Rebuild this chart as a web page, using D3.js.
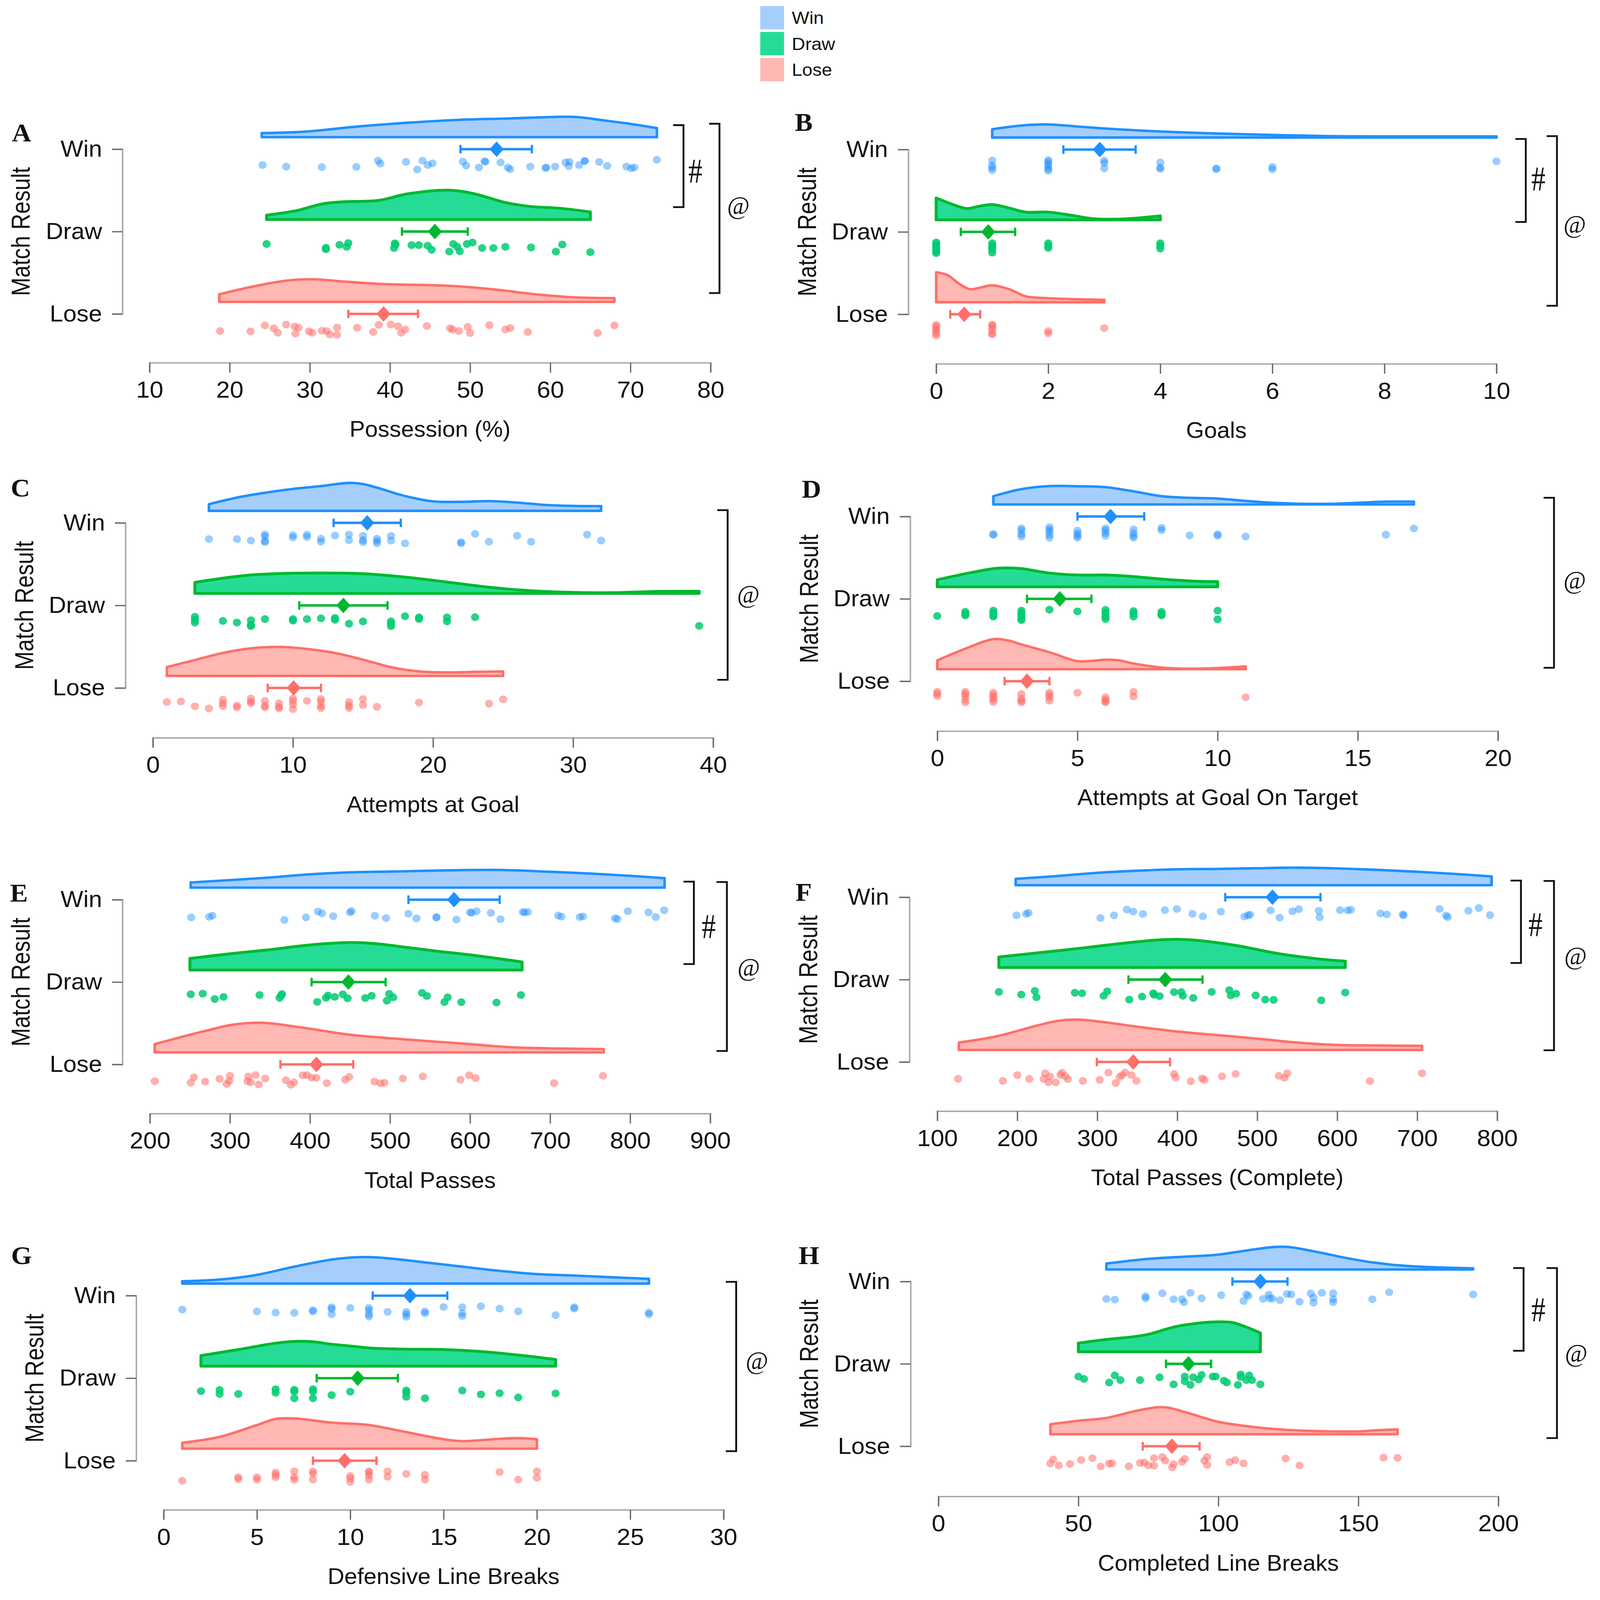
<!DOCTYPE html>
<html>
<head>
<meta charset="utf-8">
<script src="https://cdn.jsdelivr.net/npm/d3@7"></script>
<style>
  html, body { margin: 0; background: #fff; overflow: hidden; }
  svg { display: block; }
  text { font-family: "Liberation Sans", Arial, sans-serif; fill: #111; }
  .serif { font-family: "Liberation Serif", "Times New Roman", serif; }
</style>
</head>
<body>
<div id="chart"></div>
<script>
// values: [value, jitter 0..1] for points, [value, density] for ridges
// and [mean, ci low, ci high] for the error bars

const results = ["Win", "Draw", "Lose"];

// A - Possession (%)
const possessionWinPts = [[24.1,.5],[27.05,.64],[31.5,.69],[35.8,.67],[38.5,.08],[38.8,.36],[42,.2],[44.05,.08],[43.4,.92],[44.7,.5],[45.3,.33],[49.1,.17],[49.5,.55],[51.1,.72],[51.8,.14],[51.9,.17],[53.8,.25],[54.7,.72],[55,.89],[57.5,.64],[59.4,.78],[59.5,.72],[60.6,.64],[61.9,.25],[62.4,.2],[62.3,.6],[63.6,.5],[64.3,.11],[64.3,.12],[66.1,.2],[67.1,.58],[69.5,.64],[70.1,.8],[70.5,.72],[73.3,0]];
const possessionDrawPts = [[24.6,.17],[32,.53],[32,.67],[33.7,.25],[34.6,.44],[34.8,.08],[40.5,.55],[40.6,.11],[40.7,.22],[42.7,.28],[43.6,.28],[44.7,.33],[45.2,.72],[47.4,.89],[47.9,.17],[48.4,.44],[48.7,.86],[49.6,.17],[50.3,.03],[51.5,.55],[52.9,.55],[54.4,.44],[57.6,.5],[60.7,.89],[61.5,.22],[65,.94]];
const possessionLosePts = [[18.8,.61],[22.6,.64],[24.4,.08],[25.5,.36],[26,.78],[27.05,0],[28.1,.19],[28.2,.86],[28.6,.3],[29.9,.64],[30.3,.78],[31.5,.58],[32.1,.61],[32.5,.94],[33.4,.28],[33.4,.97],[35.9,.3],[37.9,.7],[38.6,.03],[40.1,0],[41,.17],[41.4,.78],[41.9,.47],[44.6,.14],[47.5,.36],[47.8,.47],[48.6,.61],[49.7,.22],[50,.8],[52.4,.06],[54.4,.47],[55,.33],[57.2,.7],[65.9,.8],[68,.08]];
const possessionWinDens = [[24,.116],[29.5,.157],[35.9,.3],[42.3,.41],[48.6,.49],[55,.53],[60.1,.57],[63.3,.57],[66.5,.48],[70.3,.365],[73.3,.257]];
const possessionDrawDens = [[24.6,.124],[28.3,.25],[31.5,.44],[34,.5],[38.5,.54],[42.3,.73],[47.4,.83],[50.5,.73],[54.4,.48],[57.5,.37],[61.4,.315],[65,.215]];
const possessionLoseDens = [[18.7,.215],[23.2,.45],[27,.6],[30.2,.64],[34.6,.57],[39.1,.505],[47.4,.456],[52.5,.365],[58.2,.215],[62.6,.133],[68,.108]];
const possessionMeans = [[53.3,48.8,57.7],[45.6,41.5,49.7],[39.2,34.8,43.5]];

// B - Goals
const goalsWinPts = [[1,.04],[1,.5],[1,.72],[1,.95],[2,0],[2,.15],[2,.38],[2,.6],[2,.82],[2,1],[3,.04],[3,.27],[3,.78],[4,.22],[4,.71],[4,.82],[5,.78],[5,.85],[6,.64],[6,.87],[10,.11]];
const goalsDrawPts = [[0,0],[0,.18],[0,.4],[0,.62],[0,.84],[0,1],[1,.07],[1,.29],[1,.44],[1,.62],[1,.96],[2,.07],[2,.29],[2,.51],[4,.07],[4,.3],[4,.58]];
const goalsLosePts = [[0,0],[0,.13],[0,.36],[0,.58],[0,.8],[0,1],[1,0],[1,.02],[1,.24],[1,.47],[1,.8],[1,.9],[2,.58],[2,.8],[3,.31]];
const goalsWinDens = [[1,.234],[1.3,.3],[1.6,.35],[2,.37],[2.5,.315],[3,.255],[3.5,.21],[4,.17],[5,.114],[6,.074],[7,.04],[8,.033],[10,.033]];
const goalsDrawDens = [[0,.62],[.3,.435],[.55,.32],[.75,.38],[1,.435],[1.3,.335],[1.6,.22],[2,.22],[2.4,.134],[2.8,.033],[3.2,.02],[3.6,.054],[4,.114]];
const goalsLoseDens = [[0,.85],[.2,.77],[.4,.535],[.6,.37],[.8,.42],[1,.48],[1.3,.37],[1.6,.167],[2,.114],[2.5,.087],[3,.067]];
const goalsMeans = [[2.92,2.27,3.56],[.93,.44,1.41],[.5,.25,.785]];

// C - Attempts at Goal
const attemptsWinPts = [[4,.53],[6,.53],[7,.67],[8,.09],[8,.27],[8,.71],[8,.82],[10,.16],[10,.38],[11,.11],[11,.33],[12,.49],[12,.78],[13,.2],[14,.11],[14,.64],[15,.22],[15,.64],[15,.82],[16,.49],[16,.71],[16,.93],[17,.22],[17,.67],[18,.93],[22,.82],[22,.93],[23,.04],[24,.78],[26,.22],[27,.78],[31,.11],[32,.67]];
const attemptsDrawPts = [[3,.07],[3,.36],[3,.62],[5,.47],[6,.62],[7,.4],[7,.84],[7,.96],[8,.29],[10,.29],[10,.44],[11,.29],[12,.22],[13,.18],[13,.36],[14,.73],[15,.51],[17,.51],[17,.73],[17,.96],[18,.02],[19,.13],[19,.29],[21,.13],[21,.51],[23,.11],[39,.93]];
const attemptsLosePts = [[1,.33],[2,.27],[3,.73],[4,.93],[5,.11],[5,.44],[5,.71],[6,.67],[6,.84],[7,0],[7,.27],[7,.44],[8,.22],[8,.67],[8,.84],[9,.44],[9,.78],[9,.93],[10,0],[10,.22],[10,.56],[10,1],[11,.22],[12,.04],[12,.27],[12,.67],[12,.89],[14,.33],[14,.67],[14,.89],[15,.04],[15,.62],[16,.78],[19,.38],[24,.49],[25,.07]];
const attemptsWinDens = [[4,.188],[6,.375],[8,.51],[10,.62],[12,.7],[14,.79],[15,.757],[16,.656],[18,.42],[20,.268],[22,.254],[24,.275],[26,.234],[28,.167],[30,.14],[32,.134]];
const attemptsDrawDens = [[3,.31],[5,.43],[7,.52],[9,.56],[12,.576],[15,.556],[18,.46],[21,.32],[24,.174],[27,.074],[30,.027],[33,.02],[36,.054],[39,.06]];
const attemptsLoseDens = [[1,.248],[3,.45],[5,.65],[7,.78],[9,.82],[11,.763],[13,.65],[15,.46],[17,.248],[19,.127],[21,.1],[23,.114],[25,.127]];
const attemptsMeans = [[15.3,12.9,17.7],[13.6,10.45,16.75],[10.05,8.2,12]];

// D - Attempts at Goal On Target
const targetWinPts = [[2,.67],[2,.73],[3,.11],[3,.33],[3,.67],[3,.89],[4,0],[4,.22],[4,.44],[4,.73],[4,1],[5,.33],[5,.6],[5,.82],[5,1],[6,.11],[6,.29],[6,.56],[6,.82],[7,.22],[7,.56],[7,.82],[7,1],[8,.07],[8,.29],[9,.78],[10,.67],[10,.82],[11,.89],[16,.71],[17,.13]];
const targetDrawPts = [[0,.62],[1,.22],[1,.44],[1,.56],[2,.11],[2,.33],[2,.56],[2,.67],[3,.11],[3,.33],[3,.56],[3,.82],[3,1],[4,.02],[5,.18],[6,.04],[6,.33],[6,.67],[6,.89],[7,.16],[7,.38],[7,.67],[8,.22],[8,.44],[8,.56],[10,.11],[10,.93]];
const targetLosePts = [[0,0],[0,.18],[0,.4],[1,0],[1,.18],[1,.4],[1,.73],[1,1],[2,.07],[2,.29],[2,.51],[2,.73],[2,.96],[3,.22],[3,.62],[3,.84],[3,1],[4,.07],[4,.29],[4,.51],[4,.84],[5,.09],[6,.51],[6,.73],[6,.89],[6,1],[7,0],[7,.44],[11,.51]];
const targetWinDens = [[2,.234],[3,.435],[4,.52],[5,.516],[6,.49],[7,.37],[8,.234],[9,.188],[10,.167],[11,.1],[12,.047],[13,.02],[14,.02],[15,.047],[16,.08],[17,.08]];
const targetDrawDens = [[0,.2],[1,.37],[2,.515],[2.5,.536],[3,.515],[4,.39],[5,.335],[6,.335],[7,.29],[8,.22],[9,.167],[10,.147]];
const targetLoseDens = [[0,.248],[1,.58],[2,.85],[2.5,.817],[3,.7],[4,.48],[5,.228],[5.5,.234],[6,.268],[6.5,.248],[7,.16],[8,.047],[9,.013],[10,.033],[11,.08]];
const targetMeans = [[6.18,5,7.38],[4.37,3.2,5.5],[3.2,2.4,4]];

// E - Total Passes
const passesWinPts = [[251.6,.67],[274,.62],[278,.51],[368,.91],[395,.67],[410,.11],[415,.29],[429,.56],[450,.2],[452,.07],[481,.51],[495,.73],[523,.33],[533,.76],[558,.69],[558,.64],[583,.87],[600,.2],[602,.24],[608,.09],[626,.24],[638,.84],[666,.16],[668,.2],[672,.16],[710,.49],[714,.6],[737,.64],[741,.58],[781,.76],[784,.82],[797,.09],[823,.2],[832,.64],[842.6,0]];
const passesDrawPts = [[251,.16],[266,.09],[281,.6],[292,.4],[337,.22],[362,.49],[364,.27],[365,.13],[409,.87],[420,.49],[422.5,.27],[431,.4],[441,.16],[447,.53],[469,.51],[477,.29],[496,.76],[499,.11],[504,.44],[540,.02],[546,.31],[568,.89],[572,.44],[589,.89],[633,.93],[663.5,.22]];
const passesLosePts = [[206,.58],[251,.73],[255,.22],[269,.62],[287,.36],[300,.07],[299,.56],[296,.84],[323,.13],[322,.58],[326,.69],[332,0],[336,.89],[344,.33],[370,.49],[380,.69],[376,.93],[391,.02],[396,0],[402,.24],[408,.27],[421,.76],[444,.44],[449,.18],[480.5,.62],[488,.78],[493,.73],[516,.33],[541,.13],[588,.44],[599,.02],[607,.29],[705,.76],[766,.07]];
const passesWinDens = [[251,.147],[350,.288],[400,.38],[450,.435],[500,.455],[550,.48],[600,.5],[640,.5],[700,.45],[750,.4],[800,.335],[843,.268]];
const passesDrawDens = [[250,.328],[300,.46],[350,.576],[400,.71],[450,.777],[480,.75],[520,.643],[560,.53],[600,.43],[665,.228]];
const passesLoseDens = [[206,.234],[250,.5],[268,.6],[300,.77],[330,.837],[350,.824],[400,.67],[450,.5],[500,.4],[550,.315],[600,.234],[650,.147],[700,.114],[767,.094]];
const passesMeans = [[580,523,637],[448,402,494.5],[408,363,454]];

// F - Total Passes (Complete)
const completeWinPts = [[199,.71],[211,.58],[214,.47],[304,.96],[321,.71],[337,.16],[345,.36],[357,.58],[384.5,.22],[399.5,.11],[419,.56],[432,.8],[454.5,.36],[484,.82],[488.5,.71],[491,.64],[516.6,.24],[528,.93],[544,.33],[552,.13],[577,.27],[578,.89],[603.6,.22],[613,.24],[617,.18],[654,.53],[662,.62],[682,.62],[683,.71],[728,.11],[736,.73],[738,.87],[764,.27],[777,.02],[791,.69]];
const completeDrawPts = [[177,.16],[205,.42],[222,.07],[224,.67],[272,.24],[281,.29],[308,.53],[312.5,.11],[340,.89],[356,.6],[370,.29],[371,.44],[378,.56],[396,.18],[405,.18],[407,.53],[420,.73],[443,.16],[465,0],[467,.49],[473.5,.33],[498,.49],[510,.89],[520.5,.91],[580,.96],[610,.22]];
const completeLosePts = [[126,.58],[182,.78],[200,.24],[215,.6],[233,.6],[235,.07],[239,.91],[241,.38],[248,.93],[254,.22],[256,.02],[260,.33],[263,.62],[282,.78],[303,.69],[314,0],[323,.98],[328,.42],[331,.24],[335,0],[343,.24],[349,.78],[396,.13],[398,.47],[417,.82],[431,.56],[434,.69],[456,.36],[473,.13],[527,.31],[534,.49],[537.5,.07],[641,.8],[706,.07]];
const completeWinDens = [[198,.18],[250,.26],[300,.35],[350,.41],[400,.45],[450,.46],[500,.48],[550,.496],[600,.475],[650,.435],[700,.38],[750,.315],[793,.248]];
const completeDrawDens = [[177,.3],[225,.415],[275,.536],[325,.67],[375,.78],[400,.8],[425,.77],[475,.62],[525,.4],[575,.248],[610,.18]];
const completeLoseDens = [[127,.208],[175,.39],[225,.69],[250,.82],[275,.857],[300,.81],[350,.657],[400,.52],[450,.42],[500,.32],[550,.208],[600,.14],[650,.127],[706,.114]];
const completeMeans = [[519,460,579],[385,339,431.6],[345,299.5,391]];

// G - Defensive Line Breaks
const defensiveWinPts = [[1,.31],[5,.49],[6,.6],[7,.62],[8,.38],[8,.49],[9,.09],[9,.27],[9,.76],[10,.16],[11,.16],[11,.38],[11,.76],[11,.98],[12,.53],[13,.53],[13,.76],[13,1],[14,.49],[14,.67],[15,.07],[16,.09],[16,.67],[16,.93],[17,0],[18,.22],[19,.49],[21,.84],[22,.09],[22,.22],[26,.6],[26,.76]];
const defensiveDrawPts = [[2,.22],[3,.11],[3,.49],[4,.49],[6,.04],[6,.38],[7,.09],[7,.27],[7,.89],[8,.04],[8,.27],[8,.89],[9,.6],[10,.27],[13,.16],[13,.38],[13,.76],[14,.89],[16,.16],[17,.53],[18,.42],[19,.82],[21,.44]];
const defensiveLosePts = [[1,.89],[4,.56],[4,.73],[5,.56],[5,.78],[6,.11],[6,.33],[6,.56],[7,0],[7,.56],[7,.78],[8,0],[8,.22],[8,.78],[10,.44],[10,.67],[10,1],[11,0],[11,.11],[11,.38],[11,.78],[12,0],[12,.51],[13,.24],[14,.33],[14,.78],[18,.07],[19,.78],[20,0],[20,.6]];
const defensiveWinDens = [[1,.067],[3,.114],[5,.248],[7,.48],[9,.68],[10,.737],[11,.75],[12,.717],[14,.6],[16,.48],[18,.36],[20,.268],[22,.228],[24,.18],[26,.134]];
const defensiveDrawDens = [[2,.3],[4,.47],[6,.65],[7,.7],[8,.69],[9,.62],[10,.57],[11,.515],[13,.48],[15,.47],[17,.415],[19,.315],[21,.188]];
const defensiveLoseDens = [[1,.167],[3,.335],[5,.67],[6,.84],[7,.857],[9,.737],[11,.67],[13,.47],[15,.268],[16,.214],[18,.28],[19,.3],[20,.268]];
const defensiveMeans = [[13.2,11.2,15.2],[10.4,8.2,12.55],[9.7,8,11.4]];

// H - Completed Line Breaks
const completedWinPts = [[60,.64],[63,.71],[74,.4],[74,.58],[80,.11],[84,.67],[87,.67],[87.7,.96],[90,.07],[94,.58],[101,.29],[109,.84],[110,.22],[110.7,.36],[116,.64],[118,.24],[118.3,.58],[119.3,.62],[122,.76],[124.5,.18],[126,.22],[129,.91],[133,.13],[134,.51],[134,1],[137,.07],[141,.11],[141,.67],[141,.96],[155,.67],[161,.02],[191,.22]];
const completedDrawPts = [[50,.2],[52,.42],[61,.76],[63,.09],[65,.53],[72,.53],[79,.27],[84,.93],[88,.2],[88,.64],[90,.98],[91,.27],[93,.47],[94,.04],[98,.2],[99,.2],[102,.58],[103,.76],[107,.98],[108,0],[108,.24],[110,.53],[111,.09],[112,.53],[115,.93]];
const completedLosePts = [[40,.62],[41,.24],[43,.8],[47,.67],[51,.29],[55,.13],[58,.91],[61,.64],[62,.62],[68,.89],[72,.58],[73.5,.53],[75,.8],[77,.13],[77,.84],[80,.02],[81,.36],[83.5,1],[84,.69],[88,.2],[87,.47],[95,.36],[96,.02],[96,.76],[104,.51],[106,.31],[109,.62],[124,.16],[129,.82],[159,.07],[164,.09]];
const completedWinDens = [[60,.167],[75,.3],[90,.37],[100,.42],[110,.536],[120,.636],[125,.636],[135,.5],[145,.335],[155,.2],[165,.114],[175,.067],[191,.033]];
const completedDrawDens = [[50,.248],[60,.35],[70,.43],[75,.496],[85,.717],[95,.83],[100,.85],[105,.83],[110,.7],[115,.536]];
const completedLoseDens = [[40,.28],[50,.38],[60,.46],[70,.65],[78,.76],[82,.75],[90,.58],[100,.35],[110,.228],[120,.147],[130,.1],[140,.08],[150,.08],[157,.114],[164,.134]];
const completedMeans = [[115,105,124.7],[89.3,81.3,97.4],[83.4,73,93.3]];

const colors = {
    Win: { line: "#1e90ff", fill: "#a6cefc", dot: "#1e90ff", dotOpacity: 0.45 },
    Draw: { line: "#00b82e", fill: "#25dc96", dot: "#00cb72", dotOpacity: 0.85 },
    Lose: { line: "#ff6f69", fill: "#ffb8b3", dot: "#ff6f69", dotOpacity: 0.55 }
};

// panel layout, in page pixels
const panels = [
    { letter: "A", title: "Possession (%)", domain: [10, 80], ticks: d3.range(10, 81, 10), x: [403, 1915], axisY: 1026, yAxisX: 330, y: [422, 888], letterAt: [58, 375], yTitleX: 55,
      pts: [possessionWinPts, possessionDrawPts, possessionLosePts], dens: [possessionWinDens, possessionDrawDens, possessionLoseDens], means: possessionMeans,
      hash: { x: 1842, y: [354, 586], tx: 1874, ty: 481 }, at: { x: 1939, y: [350, 829], tx: 1990, ty: 580 } },
    { letter: "B", title: "Goals", domain: [0, 10], ticks: d3.range(0, 11, 2), x: [2523, 4033], axisY: 1029, yAxisX: 2448, y: [423, 889], letterAt: [2166, 345], yTitleX: 2175,
      pts: [goalsWinPts, goalsDrawPts, goalsLosePts], dens: [goalsWinDens, goalsDrawDens, goalsLoseDens], means: goalsMeans,
      hash: { x: 4112, y: [393, 628], tx: 4146, ty: 504 }, at: { x: 4196, y: [385, 865], tx: 4244, ty: 633 } },
    { letter: "C", title: "Attempts at Goal", domain: [0, 40], ticks: d3.range(0, 41, 10), x: [412, 1922], axisY: 2087, yAxisX: 338, y: [1479, 1946], letterAt: [55, 1379], yTitleX: 65,
      pts: [attemptsWinPts, attemptsDrawPts, attemptsLosePts], dens: [attemptsWinDens, attemptsDrawDens, attemptsLoseDens], means: attemptsMeans,
      at: { x: 1961, y: [1443, 1923], tx: 2017, ty: 1680 } },
    { letter: "D", title: "Attempts at Goal On Target", domain: [0, 20], ticks: d3.range(0, 21, 5), x: [2526, 4037], axisY: 2068, yAxisX: 2453, y: [1461, 1927], letterAt: [2187, 1382], yTitleX: 2180,
      pts: [targetWinPts, targetDrawPts, targetLosePts], dens: [targetWinDens, targetDrawDens, targetLoseDens], means: targetMeans,
      at: { x: 4188, y: [1408, 1889], tx: 4244, ty: 1640 } },
    { letter: "E", title: "Total Passes", domain: [200, 900], ticks: d3.range(200, 901, 100), x: [404, 1914], axisY: 3150, yAxisX: 330, y: [2545, 3011], letterAt: [51, 2525], yTitleX: 55,
      pts: [passesWinPts, passesDrawPts, passesLosePts], dens: [passesWinDens, passesDrawDens, passesLoseDens], means: passesMeans,
      hash: { x: 1870, y: [2494, 2727], tx: 1910, ty: 2619 }, at: { x: 1959, y: [2495, 2973], tx: 2018, ty: 2735 } },
    { letter: "F", title: "Total Passes (Complete)", domain: [100, 800], ticks: d3.range(100, 801, 100), x: [2526, 4035], axisY: 3143, yAxisX: 2451, y: [2538, 3004], letterAt: [2166, 2523], yTitleX: 2178,
      pts: [completeWinPts, completeDrawPts, completeLosePts], dens: [completeWinDens, completeDrawDens, completeLoseDens], means: completeMeans,
      hash: { x: 4099, y: [2491, 2724], tx: 4138, ty: 2613 }, at: { x: 4188, y: [2492, 2971], tx: 4246, ty: 2703 } },
    { letter: "G", title: "Defensive Line Breaks", domain: [0, 30], ticks: d3.range(0, 31, 5), x: [441, 1950], axisY: 4271, yAxisX: 367, y: [3665, 4132], letterAt: [58, 3551], yTitleX: 92,
      pts: [defensiveWinPts, defensiveDrawPts, defensiveLosePts], dens: [defensiveWinDens, defensiveDrawDens, defensiveLoseDens], means: defensiveMeans,
      at: { x: 1984, y: [3626, 4105], tx: 2040, ty: 3848 } },
    { letter: "H", title: "Completed Line Breaks", domain: [0, 200], ticks: d3.range(0, 201, 50), x: [2529, 4038], axisY: 4233, yAxisX: 2454, y: [3625, 4091], letterAt: [2180, 3551], yTitleX: 2180,
      pts: [completedWinPts, completedDrawPts, completedLosePts], dens: [completedWinDens, completedDrawDens, completedLoseDens], means: completedMeans,
      hash: { x: 4106, y: [3587, 3821], tx: 4146, ty: 3702 }, at: { x: 4196, y: [3587, 4068], tx: 4248, ty: 3826 } }
];

// the drawing area stays 4312x4526 whatever the window reports
const svg = d3.select("#chart").append("svg")
    .attr("width", window.innerWidth)
    .attr("height", window.innerHeight)
    .attr("viewBox", "0 0 4312 4526")
    .attr("preserveAspectRatio", "none");

// ridge height and jitter offsets are the same in every panel
const densityY = d3.scaleLinear().domain([0, 1]).range([0, 100]);
const jitterY = d3.scaleLinear().domain([0, 1]).range([30, 60]);

function drawBracket(b, symbol, size, stretch) {
    svg.append("path")
        .attr("d", `M${b.x - 28},${b.y[0]}H${b.x}V${b.y[1]}H${b.x - 28}`)
        .attr("fill", "none")
        .attr("stroke", "#111")
        .attr("stroke-width", 5);
    svg.append("text")
        .attr("class", "serif")
        .attr("transform", `translate(${b.tx},${b.ty}) scale(1,${stretch})`)
        .attr("dy", "0.35em")
        .attr("text-anchor", "middle")
        .attr("font-size", size)
        .text(symbol);
}

panels.forEach(p => {
    const x = d3.scaleLinear().domain(p.domain).range(p.x);
    const y = d3.scalePoint().domain(results).range(p.y);
    const g = svg.append("g");

    // axes
    const xAxis = g.append("g")
        .attr("transform", `translate(0,${p.axisY})`)
        .call(d3.axisBottom(x).tickValues(p.ticks).tickFormat(d3.format("d")).tickSize(28).tickPadding(24));
    const yAxis = g.append("g")
        .attr("transform", `translate(${p.yAxisX},0)`)
        .call(d3.axisLeft(y).tickSize(28).tickPadding(27));
    [xAxis, yAxis].forEach(a => {
        a.attr("font-family", null).attr("font-size", null);
        a.selectAll("text").attr("font-size", 66).attr("fill", "#111");
        a.select(".domain").attr("stroke", "#a8a8a8").attr("stroke-width", 4);
        a.selectAll(".tick line").attr("stroke", "#666").attr("stroke-width", 3.5);
    });
    yAxis.selectAll("text").attr("font-size", 65);

    g.append("text")
        .attr("x", (p.x[0] + p.x[1]) / 2)
        .attr("y", p.axisY + 188)
        .attr("dy", "0.35em")
        .attr("text-anchor", "middle")
        .attr("font-size", 62.5)
        .text(p.title);

    // the rotated title is a little stretched across its height in the original
    g.append("text")
        .attr("transform", `translate(${p.yTitleX},${(p.y[0] + p.y[1]) / 2}) rotate(-90) scale(1,1.12)`)
        .attr("dy", "0.35em")
        .attr("text-anchor", "middle")
        .attr("font-size", 62.5)
        .text("Match Result");

    g.append("text")
        .attr("class", "serif")
        .attr("x", p.letterAt[0])
        .attr("y", p.letterAt[1])
        .attr("dy", "0.35em")
        .attr("text-anchor", "middle")
        .attr("font-size", 72)
        .attr("font-weight", "bold")
        .text(p.letter);

    results.forEach((r, i) => {
        const c = colors[r];
        const tickY = y(r);
        const base = tickY - 34;

        // half violin
        const area = d3.area()
            .x(d => x(d[0]))
            .y0(base)
            .y1(d => base - densityY(d[1]))
            .curve(d3.curveCatmullRom.alpha(0.5));
        g.append("path")
            .datum(p.dens[i])
            .attr("d", area)
            .attr("fill", c.fill)
            .attr("stroke", c.line)
            .attr("stroke-width", r === "Draw" ? 8 : 7)
            .attr("stroke-linejoin", "round");

        // jittered points
        g.selectAll(null)
            .data(p.pts[i])
            .join("circle")
            .attr("cx", d => x(d[0]))
            .attr("cy", d => tickY + jitterY(d[1]))
            .attr("r", 11)
            .attr("fill", c.dot)
            .attr("fill-opacity", c.dotOpacity);

        // mean and CI
        const [mean, lo, hi] = p.means[i];
        g.append("path")
            .attr("d", `M${x(lo)},${tickY}H${x(hi)}`)
            .attr("stroke", c.line)
            .attr("stroke-width", 7);
        g.append("path")
            .attr("d", `M${x(lo)},${tickY - 12}V${tickY + 12}M${x(hi)},${tickY - 12}V${tickY + 12}`)
            .attr("stroke", c.line)
            .attr("stroke-width", 6);
        g.append("path")
            .attr("d", `M${x(mean) - 19},${tickY}L${x(mean)},${tickY - 22}L${x(mean) + 19},${tickY}L${x(mean)},${tickY + 22}Z`)
            .attr("fill", c.line);
    });

    if (p.hash) drawBracket(p.hash, "#", 76, 1.3);
    if (p.at) drawBracket(p.at, "@", 66, 1.1);
});

// legend
const legendY = d3.scaleBand().domain(results).range([17, 230]).paddingInner(0.1);
const legend = svg.append("g");
legend.selectAll("rect")
    .data(results)
    .join("rect")
    .attr("x", 2049)
    .attr("y", d => legendY(d))
    .attr("width", 64)
    .attr("height", legendY.bandwidth())
    .attr("fill", d => colors[d].fill);
legend.selectAll("text")
    .data(results)
    .join("text")
    .attr("x", 2134)
    .attr("y", d => legendY(d) + legendY.bandwidth() / 2)
    .attr("dy", "0.35em")
    .attr("font-size", 50)
    .text(d => d);
</script>
</body>
</html>
